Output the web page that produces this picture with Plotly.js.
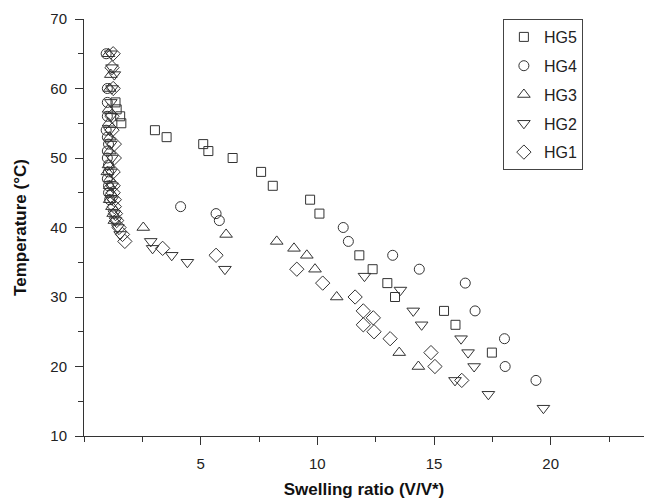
<!DOCTYPE html>
<html>
<head>
<meta charset="utf-8">
<script src="https://cdn.plot.ly/plotly-3.0.1.min.js"></script>
<style>html,body{margin:0;padding:0;background:#fff;}#chart{width:645px;height:500px;}</style>
</head>
<body>
<div id="chart"></div>
<script>
// HG5 (squares)
const hg5_x = [1.35, 1.4, 1.55, 1.6, 3.04, 3.54, 5.11, 5.33, 6.37, 7.59, 8.09, 9.69, 10.09, 11.8, 12.37, 13.0, 13.33, 15.43, 15.92, 17.48];
const hg5_y = [58, 57, 56, 55, 54, 53, 52, 51, 50, 48, 46, 44, 42, 36, 34, 32, 30, 28, 26, 22];
// HG4 (circles)
const hg4_x = [0.95, 1.0, 1.0, 1.0, 0.95, 1.0, 1.05, 1.0, 1.0, 1.05, 1.05, 1.0, 1.05, 1.05, 1.1, 4.14, 5.66, 5.8, 11.11, 11.33, 13.23, 14.37, 16.34, 16.76, 18.02, 18.05, 19.37];
const hg4_y = [65, 60, 58, 56, 54, 53, 52, 51, 50, 49, 48, 47, 46, 45, 44, 43, 42, 41, 40, 38, 36, 34, 32, 28, 24, 20, 18];
// HG3 (up triangles)
const hg3_x = [1.05, 1.15, 1.1, 1.05, 1.05, 1.1, 1.1, 1.05, 1.0, 1.1, 1.1, 1.15, 1.1, 1.2, 1.25, 1.3, 2.54, 6.09, 8.26, 9.0, 9.55, 9.9, 10.83, 13.51, 14.33];
const hg3_y = [65, 62, 60, 57, 55, 53, 51, 49, 48, 47, 46, 45, 44, 43, 42, 41, 40, 39, 38, 37, 36, 34, 30, 22, 20];
// HG2 (down triangles)
const hg2_x = [1.15, 1.2, 1.3, 1.2, 1.15, 1.15, 1.1, 1.15, 1.2, 1.15, 1.2, 1.2, 1.3, 1.35, 1.45, 1.55, 2.86, 2.94, 3.76, 4.43, 6.04, 12.02, 13.56, 14.11, 14.47, 16.16, 16.46, 16.72, 15.9, 17.33, 19.69];
const hg2_y = [65, 63, 62, 60, 58, 56, 54, 52, 50, 48, 46, 44, 42, 41, 40, 39, 38, 37, 36, 35, 34, 33, 31, 28, 26, 24, 22, 20, 18, 16, 14];
// HG1 (diamonds)
const hg1_x = [1.25, 1.2, 1.25, 1.2, 1.2, 1.3, 1.3, 1.25, 1.25, 1.25, 1.3, 1.3, 1.35, 1.4, 1.5, 1.65, 1.75, 3.37, 5.66, 9.12, 10.23, 11.62, 11.97, 12.4, 11.97, 12.43, 13.12, 14.87, 15.04, 16.19];
const hg1_y = [65, 63, 60, 56, 54, 52, 50, 48, 46, 45, 44, 43, 42, 41, 40, 39, 38, 37, 36, 34, 32, 30, 28, 27, 26, 25, 24, 22, 20, 18];

const xTickVals = [5, 10, 15, 20];
const xTickText = ['5', '10', '15', '20'];
const yTickVals = [10, 20, 30, 40, 50, 60, 70];

const ink = '#333333';
function series(name, xs, ys, symbol, size) {
  return {
    type: 'scatter', mode: 'markers', name: name, x: xs, y: ys,
    legendgroup: name,
    marker: {symbol: symbol, size: size, color: ink, line: {color: ink, width: 1}},
    cliponaxis: false
  };
}
const data = [
  series('HG5', hg5_x, hg5_y, 'square-open', 9),
  series('HG4', hg4_x, hg4_y, 'circle-open', 10),
  series('HG3', hg3_x, hg3_y, 'triangle-up-open', 11),
  series('HG2', hg2_x, hg2_y, 'triangle-down-open', 11),
  series('HG1', hg1_x, hg1_y, 'diamond-open', 11)
];
const font = 'Liberation Sans, Arial, sans-serif';
const layout = {
  width: 645, height: 500,
  margin: {l: 84, r: 1, t: 19, b: 64},
  paper_bgcolor: '#fff', plot_bgcolor: '#fff',
  font: {family: font, size: 15, color: '#222'},
  showlegend: true,
  legend: {
    x: 0.748, y: 1.0, xanchor: 'left', yanchor: 'top',
    bordercolor: '#444', borderwidth: 1, bgcolor: '#fff',
    font: {family: font, size: 16, color: '#222'},
    traceorder: 'grouped', tracegroupgap: 5, itemwidth: 30
  },
  xaxis: {
    range: [0, 24], showgrid: false, zeroline: false,
    showline: true, linecolor: ink, linewidth: 1, mirror: false,
    ticks: 'outside', ticklen: 8, tickcolor: ink, tickwidth: 1,
    tickvals: xTickVals, ticktext: xTickText, ticklabelstandoff: 6,
    minor: {dtick: 2.5, tick0: 0, ticks: 'outside', ticklen: 5, tickcolor: ink, tickwidth: 1, showgrid: false},
    title: {text: '<b>Swelling ratio (V/V*)</b>', font: {family: font, size: 17, color: '#111'}, standoff: 12}
  },
  yaxis: {
    range: [10, 70], showgrid: false, zeroline: false,
    showline: true, linecolor: ink, linewidth: 1, mirror: false,
    ticks: 'outside', ticklen: 8, tickcolor: ink, tickwidth: 1,
    tickvals: yTickVals, ticklabelstandoff: 5,
    minor: {dtick: 5, tick0: 10, ticks: 'outside', ticklen: 5, tickcolor: ink, tickwidth: 1, showgrid: false},
    title: {text: '<b>Temperature (°C)</b>', font: {family: font, size: 17, color: '#111'}, standoff: 19}
  }
};
Plotly.newPlot('chart', data, layout, {displayModeBar: false, staticPlot: true});
</script>
</body>
</html>
